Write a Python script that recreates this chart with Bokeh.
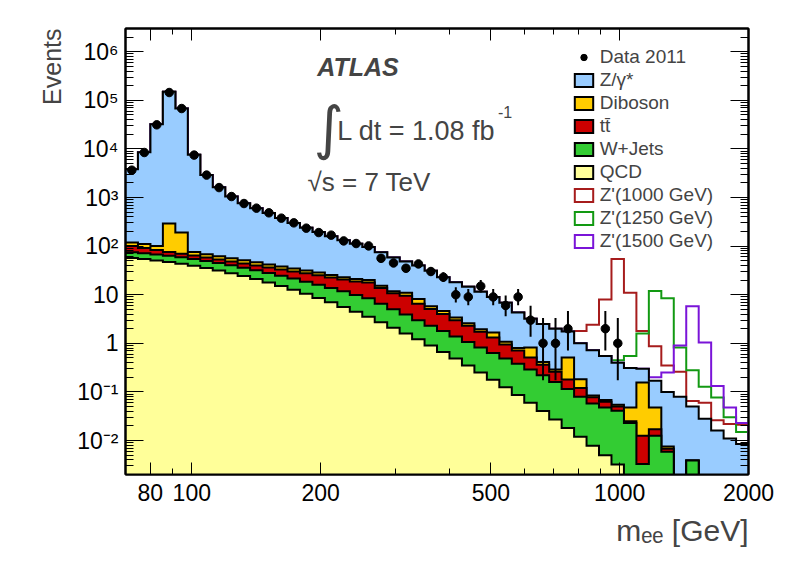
import numpy as np
from bokeh.plotting import figure
from bokeh.models import (LogAxis, FixedTicker, CustomJSTickFormatter, Label,
                          Legend, LegendItem, Title, Range1d)
from bokeh.embed import file_html
from bokeh.resources import INLINE

# ---------------- data ----------------
bin_edges = [70.00, 74.85, 80.05, 85.60, 91.53, 97.88, 104.67, 111.93, 119.69, 127.99,
             136.87, 146.36, 156.51, 167.36, 178.97, 191.38, 204.66, 218.85, 234.03, 250.26,
             267.61, 286.17, 306.02, 327.24, 349.93, 374.20, 400.15, 427.91, 457.58, 489.32,
             523.25, 559.54, 598.34, 639.84, 684.21, 731.67, 782.41, 836.67, 894.69, 956.74,
             1023.09, 1094.05, 1169.93, 1251.07, 1337.83, 1430.62, 1529.84, 1635.94, 1749.40,
             1870.73, 2000.00]

data_counts = [3650, 8430, 31300, 144500, 67700, 7450, 2890, 1600, 1047, 752,
               604, 484, 376, 301, 234, 190, 168, 128, 113, 101,
               56, 45, 35, 43, 30, 23, 10, 9, 15, 9,
               6, 9, 3, 1, 1, 2, 0, 0, 2, 1,
               0, 0, 0, 0, 0, 0, 0, 0, 0, 0]

qcd = [57.0, 54.1, 50.7, 47.1, 43.3, 39.4, 35.4, 31.6, 27.8, 24.3,
       21.0, 17.9, 15.1, 12.7, 10.5, 8.6, 6.98, 5.60, 4.45, 3.50,
       2.72, 2.10, 1.60, 1.21, 0.90, 0.665, 0.486, 0.351, 0.252, 0.178,
       0.125, 0.0868, 0.0596, 0.0405, 0.0272, 0.0181, 0.0120, 0.0078, 0.0050, 0.0032,
       0, 0, 0, 0, 0, 0, 0, 0, 0, 0]

wjets = [18.0, 16.9, 16.3, 15.9, 15.7, 14.6, 14.1, 13.4, 12.7, 11.7,
         11.0, 10.1, 9.4, 8.8, 8.0, 7.4, 6.82, 6.2, 5.45, 5.0,
         3.78, 2.90, 2.30, 1.79, 1.40, 1.135, 0.894, 0.709, 0.568, 0.452,
         0.365, 0.293, 0.230, 0.180, 0.133, 0.097, 0.068, 0.050, 0.043, 0.038,
         0.023, 0.0033, 0.0125, 0.0059, 0, 0.0039, 0, 0, 0, 0]

ttbar = [25, 20, 16, 13, 11, 10, 8.5, 8, 7.5, 8,
         8, 8.5, 8.5, 8.5, 9, 9, 8.7, 8.7, 8.8, 9.3,
         7.3, 5.7, 5.6, 3.5, 2.8, 2.2, 1.62, 1.24, 0.92, 0.69,
         0.46, 0.33, 0.22, 0.14, 0.10, 0.065, 0.04, 0.02, 0.015, 0.009,
         0.002, 0.0092, 0.0045, 0.0009, 0, 0, 0, 0, 0, 0]

diboson = [18, 19, 17, 216, 120, 12, 10, 9, 8, 7,
           6.5, 5.5, 5, 4.5, 4, 3.5, 3, 2.5, 2.3, 2.2,
           1.4, 1.1, 1.5, 1.7, 0.7, 0.65, 0.4, 0.3, 0.21, 0.35,
           0.13, 0.09, 0.31, 0.05, 0.03, 0.33, 0.063, 0.007, 0.005, 0.004,
           0.023, 0.144, 0.031, 0.0007, 0, 0, 0, 0, 0, 0]

zgamma = [3682, 8390, 31900, 149700, 67810, 7524, 2832, 1558, 994, 709,
          553.5, 438, 342, 265.5, 208.5, 166.5, 134.5, 109, 91, 76,
          59.8, 46.2, 37, 31.8, 25.2, 18.35, 14.6, 11.9, 9.55, 7.33,
          5.72, 3.5, 2.38, 2.09, 1.71, 1.24, 0.817, 0.635, 0.482, 0.346,
          0.262, 0.144, 0.122, 0.0925, 0.08, 0.0461, 0.028, 0.016, 0.011, 0.0085]

# signal contributions, stacked on the total background
zprime_1000 = [0.0] * 36 + [0.8, 1.68, 7.45, 53.6, 10.7, 1.5, 0.7, 0.25, 0.18, 0.015,
                            0.032, 0.01, 0.011, 0.0125]
zprime_1250 = [0.0] * 39 + [0.05, 0.24, 1.3, 11.8, 8.4, 0.74, 0.23, 0.10, 0.061, 0.019, 0.0065]
zprime_1500 = [0.0] * 42 + [0.03, 0.15, 0.82, 5.75, 1.01, 0.117, 0.037, 0.0145]

x_tick_values = [80, 100, 200, 500, 1000, 2000]
x_tick_labels = ["80", "100", "200", "500", "1000", "2000"]
x_minor_ticks = [90, 300, 400, 600, 700, 800, 900]
y_tick_values = [0.01, 0.1, 1, 10, 100, 1000, 10000, 100000, 1000000]
y_tick_labels = ["10\u207b\u00b2", "10\u207b\u00b9", "1", "10", "10\u00b2", "10\u00b3",
                 "10\u2074", "10\u2075", "10\u2076"]

legend_labels = ["Data 2011", "Z/\u03b3*", "Diboson", "tt\u0304", "W+Jets", "QCD",
                 "Z'(1000 GeV)", "Z'(1250 GeV)", "Z'(1500 GeV)"]

# ---------------- style ----------------
FONT = "Liberation Sans"
C_Z, C_DB, C_TT, C_W, C_QCD = "#99ccff", "#ffcc00", "#cc0000", "#33cc33", "#ffff99"
C_1000, C_1250, C_1500 = "#a61c1c", "#129912", "#7a14d8"
X_MIN, X_MAX = 70.0, 2000.0
Y_MIN, Y_MAX = 0.002, 3.0e6
FLOOR = 1e-6

# page-pixel -> data helpers for text annotations (frame: x 125..748, y 28..474)
FL, FR, FT, FB = 125.0, 748.0, 28.0, 474.0
def dx(px):
    return 10 ** (np.log10(X_MIN) + (px - FL) / (FR - FL) * np.log10(X_MAX / X_MIN))
def dy(py):
    return 10 ** (np.log10(Y_MAX) - (py - FT) / (FB - FT) * np.log10(Y_MAX / Y_MIN))

p = figure(width=780, height=558, x_axis_type="log", y_axis_type="log",
           x_range=Range1d(X_MIN, X_MAX), y_range=Range1d(Y_MIN, Y_MAX),
           output_backend="svg", toolbar_location=None,
           min_border_left=125, min_border_right=32, min_border_top=28, min_border_bottom=84)
p.grid.visible = False
p.outline_line_color = "black"
p.outline_line_width = 2
p.outline_line_alpha = 1.0
p.background_fill_color = "white"
p.border_fill_color = "white"

edges = np.array(bin_edges)

def outline(vals):
    xs = [edges[0]]
    ys = [FLOOR]
    for i, v in enumerate(vals):
        v = v if v > 0 else FLOOR
        xs += [edges[i], edges[i + 1]]
        ys += [v, v]
    xs.append(edges[-1])
    ys.append(FLOOR)
    return xs, ys

levels = np.cumsum(np.array([qcd, wjets, ttbar, diboson, zgamma], dtype=float), axis=0)
total = levels[-1]

# Z' signal hypotheses (outline only, stacked on the background)
sig_renderers = []
for sig, col in [(zprime_1000, C_1000), (zprime_1250, C_1250), (zprime_1500, C_1500)]:
    xs, ys = outline(total + np.array(sig))
    sig_renderers.append(p.patch(xs, ys, fill_color="white", fill_alpha=0.0, line_color=col,
                                 line_width=2, line_join="miter"))

# background stack: draw from the top level down
bkg_renderers = []
for lev, col in zip(levels[::-1], [C_Z, C_DB, C_TT, C_W, C_QCD]):
    xs, ys = outline(lev)
    bkg_renderers.append(p.patch(xs, ys, fill_color=col, line_color="black", line_width=2,
                                 line_join="miter"))

# data with Poisson (Garwood) intervals
garwood = {1: (0.173, 3.300), 2: (0.708, 4.638), 3: (1.367, 5.918)}
counts = np.array(data_counts, dtype=float)
centers = (edges[:-1] + edges[1:]) / 2
m = counts > 0
lo, hi = [], []
for n in counts[m]:
    n = int(n)
    if n in garwood:
        a, b = garwood[n]
    else:
        a, b = n - np.sqrt(n - 0.25), n + np.sqrt(n + 0.75) + 1
    lo.append(a)
    hi.append(b)
p.segment(x0=centers[m], y0=lo, x1=centers[m], y1=hi, line_color="black", line_width=2)
r_data = p.scatter(centers[m], counts[m], size=8.5, color="black")

# ---------------- axes ----------------
lab_code = """
for (let i = 0; i < vals.length; i++) {
  if (Math.abs(Math.log10(tick) - Math.log10(vals[i])) < 1e-6) return labs[i];
}
return "";
"""
x_fmt = CustomJSTickFormatter(args=dict(vals=x_tick_values, labs=x_tick_labels), code=lab_code)
y_fmt = CustomJSTickFormatter(args=dict(vals=y_tick_values, labs=y_tick_labels), code=lab_code)
blank = CustomJSTickFormatter(code="return '';")
y_minor = [mm * 10.0 ** e for e in range(-3, 7) for mm in range(2, 10)]
x_ticker = FixedTicker(ticks=x_tick_values, minor_ticks=x_minor_ticks)
y_ticker = FixedTicker(ticks=y_tick_values, minor_ticks=y_minor)

def style(ax, major, minor):
    ax.axis_line_width = 2
    ax.axis_line_color = "black"
    ax.major_tick_in = major
    ax.major_tick_out = 0
    ax.minor_tick_in = minor
    ax.minor_tick_out = 0
    ax.major_tick_line_width = 1
    ax.minor_tick_line_width = 1
    ax.major_label_text_font = FONT
    ax.major_label_text_font_size = "23px"
    ax.major_label_text_color = "black"

xb = p.xaxis[0]
xb.ticker = x_ticker
xb.formatter = x_fmt
style(xb, 12, 6)
xb.major_label_standoff = 9

yl = p.yaxis[0]
yl.ticker = y_ticker
yl.formatter = y_fmt
style(yl, 18, 8)
yl.major_label_standoff = 7

xt = LogAxis(ticker=x_ticker, formatter=blank)
style(xt, 12, 6)
xt.major_label_text_font_size = "0px"
xt.major_label_standoff = 0
p.add_layout(xt, "above")

yr = LogAxis(ticker=y_ticker, formatter=blank)
style(yr, 18, 8)
yr.major_label_text_font_size = "0px"
yr.major_label_standoff = 0
p.add_layout(yr, "right")

p.add_layout(Title(text="Events", align="right", text_font=FONT, text_font_size="25px",
                   text_font_style="normal", standoff=18), "left")
p.add_layout(Title(text="m\u2091\u2091 [GeV]", align="right", text_font=FONT, text_font_size="30px",
                   text_font_style="normal", standoff=16), "below")

# ---------------- texts ----------------
p.add_layout(Label(x=dx(316.7), y=dy(66), text="ATLAS", text_font=FONT, text_font_size="25px",
                   text_font_style="bold italic", text_baseline="alphabetic"))
p.add_layout(Label(x=dx(313), y=dy(127.5), text="\u222b", text_font="DejaVu Sans",
                   text_font_size="58px", text_baseline="middle"))
p.add_layout(Label(x=dx(336.7), y=dy(130), text="L dt = 1.08 fb", text_font=FONT,
                   text_font_size="27px", text_baseline="alphabetic"))
p.add_layout(Label(x=dx(497.5), y=dy(111), text="-1", text_font=FONT,
                   text_font_size="16px", text_baseline="alphabetic"))
p.add_layout(Label(x=dx(307), y=dy(181), text="\u221as = 7 TeV", text_font=FONT,
                   text_font_size="26px", text_baseline="alphabetic"))

# ---------------- legend ----------------
items = [LegendItem(label=legend_labels[0], renderers=[r_data])]
for lab, r in zip(legend_labels[1:6], bkg_renderers):
    items.append(LegendItem(label=lab, renderers=[r]))
for lab, r in zip(legend_labels[6:], sig_renderers):
    items.append(LegendItem(label=lab, renderers=[r]))

legend = Legend(items=items, location=(446.7, 222), glyph_width=23, glyph_height=16,
                label_standoff=5, spacing=1, padding=0, margin=0,
                border_line_color=None, background_fill_alpha=0.0,
                label_text_font=FONT, label_text_font_size="19px")
p.add_layout(legend)

open("out.html", "w").write(file_html(p, INLINE))
